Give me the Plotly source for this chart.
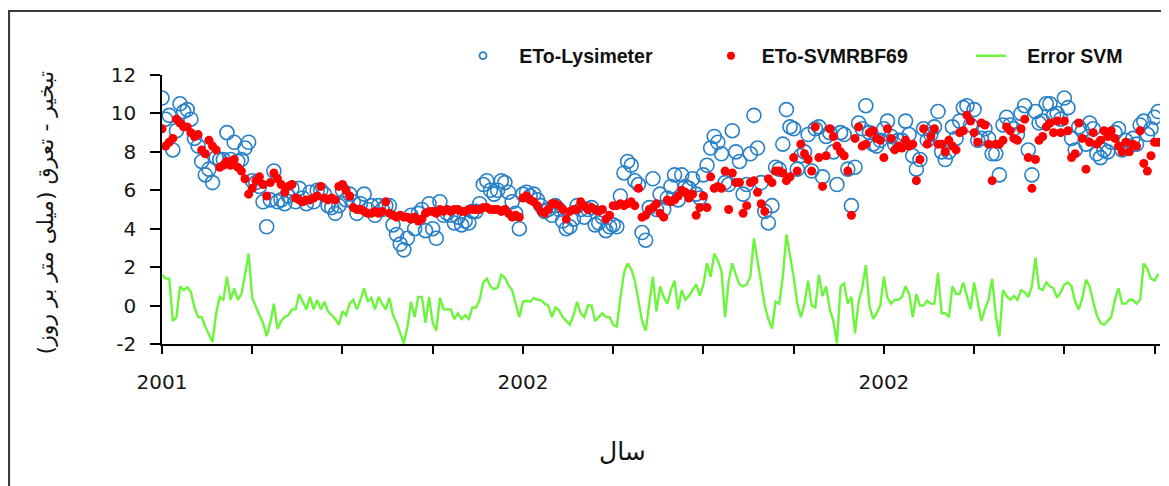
import plotly.graph_objects as go

# ---------------- data ----------------
# one sample every 4 days along the time axis
eto_lysimeter = [
    10.8, 9.7, 9.9, 8.1, 9.1, 10.5, 10.1, 10.2, 9.7, 8.7,
    8.3, 7.5, 6.8, 7.1, 6.4, 7.7, 7.6, 7.6, 9.0, 7.6,
    8.5, 7.5, 7.6, 8.2, 8.5, 6.5, 6.4, 6.2, 5.4, 4.1,
    5.5, 7.0, 5.4, 5.5, 5.3, 5.7, 6.1, 5.4, 6.1, 5.6,
    5.3, 5.9, 5.4, 6.0, 6.0, 5.8, 5.2, 5.1, 4.8, 5.2,
    6.0, 5.5, 5.8, 5.4, 4.8, 5.3, 5.8, 5.0, 5.2, 4.7,
    5.2, 5.0, 5.2, 5.2, 4.2, 3.7, 3.2, 2.9, 3.5, 4.7,
    4.0, 4.8, 5.0, 3.9, 5.3, 4.0, 3.5, 5.4, 4.7, 4.8,
    4.7, 4.3, 4.6, 4.2, 4.4, 4.3, 4.9, 4.9, 5.3, 6.3,
    6.5, 6.0, 5.8, 6.0, 6.5, 6.4, 5.9, 5.4, 4.8, 4.0,
    5.8, 5.9, 5.7, 5.8, 5.5, 5.2, 4.9, 5.0, 4.7, 5.2,
    5.0, 4.4, 4.0, 4.1, 4.5, 5.2, 5.0, 4.6, 5.0, 5.1,
    4.2, 4.3, 4.6, 3.9, 4.1, 4.2, 4.1, 5.7, 6.9, 7.5,
    7.3, 6.5, 6.3, 3.8, 3.4, 5.1, 6.6, 5.0,
    5.8, 5.0, 5.6, 6.2, 6.8, 5.5, 6.8, 6.2, 6.1, 6.6,
    5.8, 5.6, 6.8, 7.3, 8.2, 8.8, 8.5, 7.9, 6.4, 6.3,
    9.1, 8.0, 7.5, 5.8, 6.3, 7.9, 9.9, 8.2, 6.4, 4.9,
    4.3, 5.2, 7.2, 7.1, 8.4, 10.2, 9.3, 9.2, 7.1, 7.8,
    8.0, 8.9, 7.0, 9.2, 9.3, 6.7, 8.8, 9.0, 8.0, 6.3,
    9.0, 8.9, 7.1, 5.2, 7.2, 9.5, 9.2, 10.4, 9.0, 8.4,
    8.3, 8.6, 9.2, 9.6, 8.8, 8.4, 8.6, 8.6, 9.6,
    8.9, 7.8, 7.1, 7.6, 9.2, 8.6, 8.9, 9.3, 10.1, 8.0,
    7.6, 8.0, 9.3, 8.7, 9.6, 10.3, 10.4, 9.4, 10.2, 8.6,
    8.7, 9.2, 8.7, 7.9, 7.9, 6.8, 9.4, 9.8, 9.4, 9.2,
    8.9, 10.0, 10.4, 8.1, 6.8, 10.1, 9.5, 9.6, 10.5, 10.5,
    9.9, 10.0, 9.7, 10.8, 10.3, 8.7, 8.1, 9.3, 9.1, 8.4,
    9.5, 9.2, 7.9, 7.7, 8.1, 8.0, 8.5, 9.0, 9.2, 8.1,
    8.6, 8.3, 8.7, 8.4, 9.4, 9.6, 8.9, 9.2, 9.8, 10.1,
]

eto_svm = [
    9.2, 8.3, 8.5, 8.7, 9.7, 9.5, 9.3, 9.3, 9.0, 8.8,
    8.9, 8.1, 7.9, 8.6, 8.3, 8.1, 7.2, 7.3, 7.5, 7.3,
    7.6, 7.2, 7.0, 6.6, 5.8, 6.1, 6.5, 6.7, 6.3, 5.7,
    6.4, 6.9, 6.6, 6.3, 5.9, 6.2, 6.3, 5.6, 5.5, 5.4,
    5.5, 5.5, 5.6, 5.7, 6.2, 5.6, 5.5, 5.6, 5.5, 6.2,
    6.3, 6.0, 5.7, 5.1, 5.0, 5.0, 4.9, 4.8, 4.8, 4.9,
    4.8, 4.9, 5.4, 4.8, 4.7, 4.6, 4.7, 4.6, 4.6, 4.5,
    4.6, 4.4, 4.5, 4.8, 4.9, 4.9, 4.8, 5.0, 4.9, 5.0,
    4.9, 5.0, 5.0, 4.9, 4.9, 5.0, 5.0, 5.0, 5.0, 5.1,
    5.1, 5.0, 5.0, 5.0, 4.9, 5.0, 4.8, 4.6, 4.7, 4.6,
    5.6, 5.7, 5.5, 5.4, 5.2, 4.9, 4.8, 5.0, 5.3, 5.3,
    5.2, 5.0, 4.5, 4.9, 5.0, 5.0, 5.4, 5.2, 5.0, 5.1,
    5.0, 4.9, 5.0, 4.5, 4.7, 5.2, 5.2, 5.3, 5.2, 5.3,
    5.4, 5.2, 6.1, 4.6, 4.7, 5.0, 5.1, 5.3,
    4.8, 4.6, 5.5, 5.4, 5.5, 5.7, 6.0, 5.9, 5.6, 5.8,
    4.7, 5.1, 5.7, 5.1, 6.7, 6.1, 6.2, 6.1, 7.0, 5.0,
    6.9, 6.4, 6.4, 4.8, 5.2, 6.4, 6.5, 5.9, 5.3, 4.9,
    6.6, 6.4, 7.0, 7.0, 6.9, 6.5, 6.7, 7.7, 7.0, 8.4,
    7.9, 7.6, 7.0, 9.3, 7.7, 6.2, 7.8, 9.2, 8.8, 8.3,
    8.0, 7.8, 7.0, 4.7, 8.7, 9.3, 8.3, 8.4, 9.0, 9.1,
    8.7, 8.6, 7.7, 9.2, 8.7, 8.1, 8.3, 8.2, 8.6,
    8.3, 8.4, 6.5, 7.6, 9.2, 8.4, 8.8, 9.2, 8.4, 8.4,
    8.0, 8.6, 8.3, 8.1, 9.0, 9.1, 9.9, 9.6, 9.0, 8.5,
    9.5, 9.4, 8.4, 6.5, 8.4, 8.4, 8.6, 9.3, 9.1, 8.7,
    8.6, 9.2, 9.7, 7.7, 6.1, 7.6, 8.6, 8.8, 9.3, 9.5,
    9.0, 9.6, 9.0, 9.6, 9.1, 7.7, 7.9, 9.5, 8.7, 7.1,
    8.5, 9.0, 8.4, 8.6, 9.1, 8.8, 9.1, 8.7, 8.3, 8.0,
    8.5, 8.0, 8.4, 8.3, 9.1, 7.4, 7.0, 7.8, 8.5, 8.5,
]

error_svm = [
    1.6, 1.4, 1.4, -0.8, -0.6, 1.0, 0.8, 0.95, 0.7, -0.1,
    -0.6, -0.6, -1.1, -1.5, -1.9, -0.4, 0.45, 0.3, 1.5, 0.3,
    0.9, 0.3, 0.6, 1.6, 2.7, 0.4, -0.1, -0.5, -0.9, -1.6,
    -0.9, 0.1, -1.2, -0.8, -0.6, -0.5, -0.2, -0.2, 0.6, 0.2,
    -0.2, 0.45, -0.2, 0.3, -0.2, 0.2, -0.3, -0.5, -0.7, -1.0,
    -0.3, -0.5, 0.1, 0.3, -0.2, 0.3, 0.9, 0.2, 0.4, -0.2,
    0.45, 0.1, -0.2, 0.4, -0.5, -0.9, -1.5, -1.97, -1.1, 0.2,
    -0.6, 0.45, 0.45, -0.9, 0.45, -0.9, -1.3, 0.4, -0.2, -0.2,
    -0.2, -0.7, -0.4, -0.7, -0.5, -0.7, -0.1, -0.1, 0.3, 1.2,
    1.4, 1.0, 0.85, 0.95, 1.6, 1.45, 1.06, 0.8, 0.1, -0.6,
    0.2, 0.25, 0.2, 0.4, 0.3, 0.28, 0.1, 0.0, -0.6, -0.1,
    -0.24, -0.6, -0.8, -1.0, -0.5, 0.2, -0.4, -0.6, 0.0, 0.0,
    -0.8, -0.6, -0.4, -0.6, -0.6, -1.0, -1.1, 0.4, 1.7, 2.2,
    1.9, 1.3, 0.2, -0.8, -1.3, 0.1, 1.5, -0.3,
    1.0, 0.45, 0.1, 0.8, 1.3, -0.2, 0.8, 0.3, 0.5, 0.8,
    1.1, 0.5, 1.1, 2.2, 1.5, 2.7, 2.35, 1.8, -0.6, 1.3,
    2.2, 1.6, 1.1, 1.0, 1.1, 1.5, 3.5, 2.35, 1.15, 0.0,
    -0.7, -1.2, 0.2, 0.1, 1.5, 3.7, 2.6, 1.5, 0.1, -0.6,
    0.1, 1.3, 0.0, -0.1, 1.6, 0.5, 1.0, -0.2, -0.8, -1.97,
    1.0, 1.15, 0.1, 0.45, -1.45, 0.2, 0.9, 2.1, 0.0, -0.7,
    -0.4, 0.0, 1.5, 0.4, 0.1, 0.3, 0.3, 0.45, 1.0,
    0.6, -0.6, 0.6, 0.0, 0.0, 0.25, 0.1, 0.1, 1.7, -0.4,
    -0.4, -0.6, 1.0, 0.6, 0.6, 1.2, 0.5, -0.2, 1.2, 0.1,
    -0.8, -0.2, 0.3, 1.4, -0.5, -1.6, 0.8, 0.5, 0.3, 0.5,
    0.3, 0.8, 0.7, 0.45, 1.0, 2.5, 0.9, 0.8, 1.2, 1.0,
    0.9, 0.4, 0.7, 1.1, 1.2, 1.0, 0.2, -0.2, 0.4, 1.35,
    1.0, 0.2, -0.5, -0.9, -1.0, -0.8, -0.6, 0.3, 0.9, 0.1,
    0.1, 0.3, 0.3, 0.1, 0.3, 2.2, 1.9, 1.4, 1.3, 1.65,
]

DAY_STEP = 4
n_points = min(len(eto_lysimeter), len(eto_svm), len(error_svm))
days = [i * DAY_STEP for i in range(n_points)]

x_tick_vals = [0, 100, 200, 300, 400, 500, 600, 700, 800, 900, 1000, 1100]
x_tick_text = ["2001", "", "", "", "2002", "", "", "", "2002", "", "", ""]
y_tick_vals = [-2, 0, 2, 4, 6, 8, 10, 12]
y_tick_text = ["-2", "0", "2", "4", "6", "8", "10", "12"]

series_names = ["ETo-Lysimeter", "ETo-SVMRBF69", "Error SVM"]
y_title = "تبخیر - تعرق (میلی متر بر روز)"
x_title = "سال"

# ---------------- styles ----------------
BLUE = "rgb(40,128,200)"
RED = "rgb(255,0,0)"
GREEN = "rgb(108,245,60)"
TICK_FONT = dict(family="DejaVu Sans", size=20, color="#151515")
LEG_FONT = dict(family="Liberation Sans", size=19.5, color="#111111", weight="bold")

fig = go.Figure()

fig.add_trace(go.Scatter(
    x=days, y=eto_lysimeter[:n_points], mode="markers", showlegend=False,
    marker=dict(symbol="circle-open", size=14, color=BLUE, line=dict(width=1.6, color=BLUE)),
))
fig.add_trace(go.Scatter(
    x=days, y=eto_svm[:n_points], mode="markers", showlegend=False,
    marker=dict(symbol="circle", size=9, color=RED, line=dict(width=0)),
))
fig.add_trace(go.Scatter(
    x=days, y=error_svm[:n_points], mode="lines", showlegend=False,
    line=dict(color=GREEN, width=2.4),
))

# legend entries, each in its own legend box so they can be placed freely
nb = "\u00a0"
fig.add_trace(go.Scatter(
    x=[None], y=[None], mode="markers", name=nb * 3 + series_names[0], legend="legend",
    marker=dict(symbol="circle-open", size=7, color=BLUE, line=dict(width=1.8, color=BLUE)),
))
fig.add_trace(go.Scatter(
    x=[None], y=[None], mode="markers", name=nb * 2 + series_names[1], legend="legend2",
    marker=dict(symbol="circle", size=8, color=RED),
))
fig.add_trace(go.Scatter(
    x=[None], y=[None], mode="lines", name=nb * 3 + series_names[2], legend="legend3",
    line=dict(color=GREEN, width=2.4),
))

PLOT_L, PLOT_W = 162, 998  # screen px of plot-area left edge and width


def leg(left_px):
    return dict(
        x=(left_px - PLOT_L) / PLOT_W, y=1.0706, xanchor="left", yanchor="middle",
        orientation="h", font=LEG_FONT, bgcolor="rgba(0,0,0,0)", borderwidth=0,
    )


fig.update_layout(
    width=1161, height=478,
    margin=dict(l=154, r=9, t=67, b=142),
    paper_bgcolor="white", plot_bgcolor="white",
    showlegend=True,
    legend=leg(463), legend2=leg(711), legend3=leg(971),
    xaxis=dict(
        range=[0, 1106], showgrid=False, zeroline=False,
        showline=True, linecolor="black", linewidth=1.5,
        ticks="outside", ticklen=8, tickwidth=1.5, tickcolor="black",
        tickvals=x_tick_vals, ticktext=x_tick_text,
        tickfont=TICK_FONT, ticklabelstandoff=11,
    ),
    yaxis=dict(
        range=[-2, 12], showgrid=False, zeroline=False,
        showline=True, linecolor="black", linewidth=1.5,
        ticks="outside", ticklen=10, tickwidth=1.5, tickcolor="black",
        tickvals=y_tick_vals, ticktext=y_tick_text,
        tickfont=TICK_FONT, ticklabelstandoff=10,
    ),
    annotations=[
        dict(text=y_title, xref="paper", yref="paper", x=-0.117, y=0.49,
             xanchor="center", yanchor="middle", textangle=-90, showarrow=False,
             font=dict(family="DejaVu Sans", size=22, color="#151515")),
        dict(text=x_title, xref="paper", yref="paper", x=0.461, y=-0.40,
             xanchor="center", yanchor="middle", showarrow=False,
             font=dict(family="DejaVu Sans", size=25, color="#111111")),
    ],
    shapes=[
        dict(type="rect", xref="paper", yref="paper",
             x0=-0.1533, y0=1.238, x1=1.02, y1=-0.55,
             line=dict(color="#3a3a3a", width=2.2), fillcolor="rgba(0,0,0,0)", layer="above"),
    ],
)

fig.write_html("out.html")
